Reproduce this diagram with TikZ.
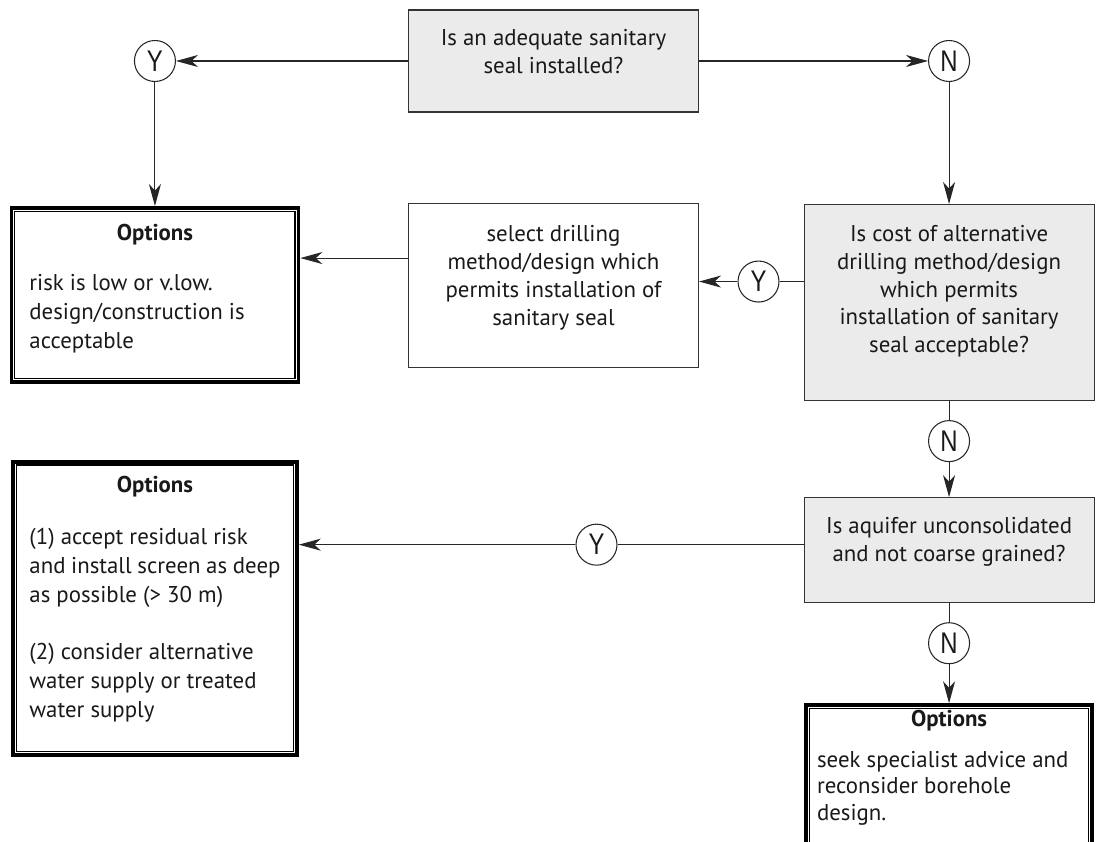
\documentclass[tikz,border=0pt]{standalone}
\usepackage{fontspec}
\setmainfont{PT Sans}
\newfontfamily\ynfont[FakeStretch=0.8]{Liberation Sans}
\usetikzlibrary{arrows.meta, positioning}

% width, height, gap under the heading, lines
\newcommand{\optbody}[4]{\parbox[t][#2][t]{#1}{\centering\textbf{Options}\par\vspace{#3}\raggedright #4}}
% centred lines with some room left below them
\newcommand{\qlines}[2]{\begin{tabular}{@{}c@{}}#2\\[#1]\end{tabular}}

\begin{document}
\begin{tikzpicture}[
		>={Stealth[length=4.4mm,width=2.4mm,inset=1.3mm]},
		every node/.style={font=\fontsize{13}{15.8}\selectfont, text=black!90},
		question/.style={draw=black!80, rectangle, minimum width=58mm, align=center, fill=black!8, line width=0.6pt, inner sep=1mm},
		action/.style={draw=black!80, rectangle, minimum width=58mm, align=center, fill=white, line width=0.6pt, inner sep=1mm},
		optbox/.style={draw=black, rectangle, line width=0.75mm, fill=white, inner xsep=3.6mm, inner ysep=3.2mm, font=\fontsize{13}{16.5}\selectfont},
		yn/.style={draw=black!85, circle, minimum size=8.2mm, inner sep=0pt, line width=0.6pt, font=\ynfont\fontsize{17}{17}\selectfont},
		link/.style={line width=0.6pt, draw=black!85}
		]
		\clip (0,0) rectangle (219.4mm,-168.4mm);
		
		% --- Top row: sanitary seal question ---
		\node[question, minimum height=20.4mm] (q1) at (110.7mm,-12.2mm) {\qlines{2.8mm}{Is an adequate sanitary\\seal installed?}};
		\node[yn, left=46.4mm of q1] (y1) {Y};
		\node[yn, right=45.8mm of q1] (n1) {N};
		
		% --- Second row: options, drilling method, cost question ---
		\node[optbox, below=24.8mm of y1] (opt1) {\optbody{50.2mm}{28.4mm}{12pt}{risk is low or v.low.\\design/construction is\\acceptable}};
		\node[action, minimum height=32.8mm, below=18mm of q1] (sel) {\qlines{2.8mm}{select drilling\\method/design which\\permits installation of\\sanitary seal}};
		\node[question, minimum height=39.2mm, below=24.4mm of n1] (q2) {\qlines{4.4mm}{Is cost of alternative\\drilling method/design\\which permits\\installation of sanitary\\seal acceptable?}};
		\node[yn, left=4.8mm of q2.west, yshift=4.2mm] (y2) {Y};
		
		% --- Third row: aquifer question ---
		\node[yn, below=3.8mm of q2] (n2) {N};
		\node[question, minimum height=21mm, below=7mm of n2] (q3) {\qlines{3.4mm}{Is aquifer unconsolidated\\and not coarse grained?}};
		\node[yn, left=37.2mm of q3, yshift=1.1mm] (y3) {Y};
		\node[optbox, below=15.2mm of opt1, inner xsep=3.3mm, inner ysep=2.9mm] (opt2) {\optbody{50.2mm}{52.8mm}{13pt}{(1) accept residual risk\\and install screen as deep\\as possible (> 30 m)\\[16pt](2) consider alternative\\water supply or treated\\water supply}};
		
		% --- Bottom: last options ---
		\node[yn, below=3.8mm of q3] (n3) {N};
		\node[optbox, below=7.8mm of n3, inner xsep=2.2mm, inner ysep=1.1mm, font=\fontsize{13}{15.2}\selectfont] (opt3) {\optbody{52.8mm}{33mm}{7.6pt}{seek specialist advice and\\reconsider borehole\\design.}};
		
		% --- Inner frame of the option boxes ---
		\foreach \o in {opt1,opt2,opt3}
			\draw[line width=0.25mm] ([shift={(1.05mm,-1.05mm)}]\o.north west) rectangle ([shift={(-1.05mm,1.05mm)}]\o.south east);
		
		% --- Connectors ---
		\draw[link, ->] (q1.west) -- (y1.east);
		\draw[link, ->] (q1.east) -- (n1.west);
		\draw[link, ->] (y1.south) -- (opt1.north);
		\draw[link, ->] (n1.south) -- (q2.north);
		\draw[link] (y2.east -| q2.west) -- (y2.east);
		\draw[link, ->] (y2.west) -- (y2.west -| sel.east);
		\coordinate (selout) at ([yshift=5.4mm]sel.west);
		\draw[link, ->] (selout) -- (selout -| opt1.east);
		\draw[link] (q2.south) -- (n2.north);
		\draw[link, ->] (n2.south) -- (q3.north);
		\draw[link] (y3.east -| q3.west) -- (y3.east);
		\draw[link, ->] (y3.west) -- (y3.west -| opt2.east);
		\draw[link] (q3.south) -- (n3.north);
		\draw[link, ->] (n3.south) -- (opt3.north);
	\end{tikzpicture}
\end{document}
